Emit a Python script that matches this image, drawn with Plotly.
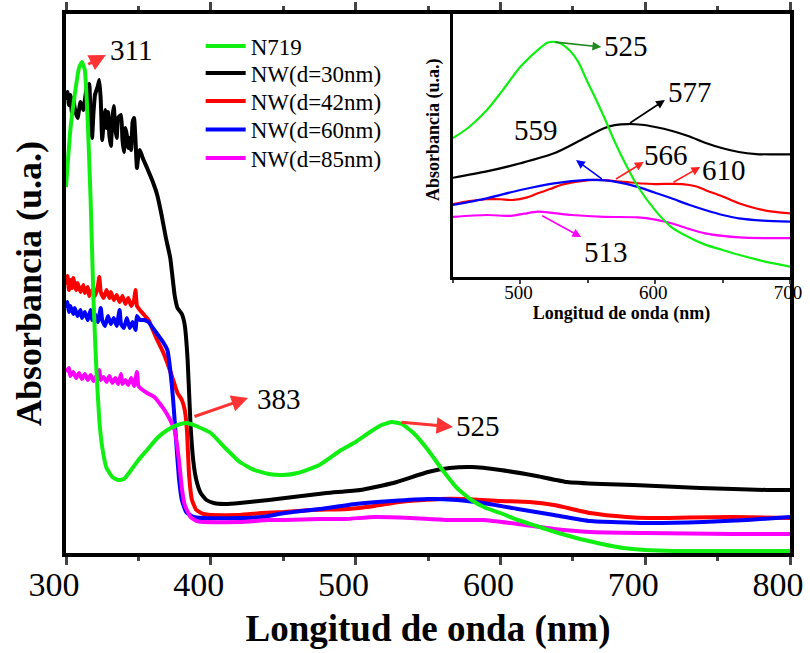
import plotly.graph_objects as go

# ---------------- data (main plot, arbitrary absorbance units) ----------------
n719_nm = [300, 303, 306, 309, 311, 313, 315, 317, 319, 321, 323, 325, 328, 332, 336, 340, 345, 350, 356,
           363, 370, 377, 383, 390, 400, 410, 420, 430, 440, 450, 460, 475, 490, 500, 510, 518, 525, 532,
           540, 550, 560, 570, 580, 590, 600, 612, 625, 640, 655, 670, 685, 700, 720, 760, 800]
n719_abs = [3.66, 4.23, 4.58, 4.85, 4.91, 4.83, 4.33, 3.53, 2.53, 1.83, 1.33, 1.06, 0.85, 0.76, 0.73, 0.74,
            0.83, 0.93, 1.03, 1.15, 1.23, 1.28, 1.30, 1.27, 1.20, 1.05, 0.91, 0.83, 0.79, 0.78, 0.80, 0.88,
            1.03, 1.11, 1.21, 1.28, 1.31, 1.29, 1.20, 1.03, 0.83, 0.65, 0.53, 0.45, 0.40, 0.33, 0.27, 0.20,
            0.14, 0.09, 0.05, 0.03, 0.02, 0.02, 0.02]

nw30_nm = [300, 301, 302, 303, 304, 305, 306, 308, 310, 312, 314, 316, 317, 318, 319, 320, 322, 323, 324, 325,
           326, 327, 328, 329, 330, 331, 332, 333, 334, 335, 336, 338, 339, 340, 341, 342, 343, 344, 345, 346,
           347, 348, 349, 350, 351, 353, 356, 360, 363, 366, 369, 372, 375, 377, 380, 382, 384, 386, 388, 390,
           393, 397, 402, 410, 420, 440, 457, 480, 503, 526, 550, 565, 580, 600, 625, 646, 670, 692, 738, 784, 800]
nw30_abs = [4.53, 4.61, 4.48, 4.58, 4.41, 4.55, 4.45, 4.35, 4.51, 4.43, 4.63, 4.69, 4.28, 4.15, 4.41, 4.58,
            4.67, 4.73, 4.53, 4.13, 4.31, 4.43, 4.25, 4.41, 4.17, 4.07, 4.35, 4.47, 4.25, 4.15, 4.35, 4.38,
            4.13, 4.01, 4.25, 4.18, 4.05, 4.15, 4.03, 4.31, 4.35, 4.13, 3.85, 3.98, 4.03, 3.95, 3.85, 3.71,
            3.58, 3.38, 3.15, 2.95, 2.58, 2.45, 2.39, 2.28, 1.93, 1.28, 0.91, 0.73, 0.60, 0.53, 0.50, 0.49,
            0.50, 0.53, 0.56, 0.60, 0.63, 0.70, 0.81, 0.85, 0.86, 0.83, 0.77, 0.71, 0.69, 0.68, 0.65, 0.63, 0.63]

nw42_nm = [300, 301, 302, 303, 304, 305, 307, 308, 310, 312, 313, 315, 316, 318, 320, 322, 323, 324, 326, 328,
           330, 331, 333, 335, 337, 339, 341, 343, 345, 347, 348, 349, 351, 354, 357, 360, 363, 367, 370, 374,
           377, 380, 382, 383.5, 385, 387, 390, 395, 400, 420, 435, 450, 470, 495, 513, 530, 558, 575, 600, 620,
           637, 662, 687, 703, 730, 761, 800]
nw42_abs = [2.68, 2.77, 2.63, 2.73, 2.65, 2.75, 2.63, 2.70, 2.61, 2.68, 2.60, 2.66, 2.57, 2.63, 2.57, 2.67,
            2.76, 2.61, 2.55, 2.63, 2.55, 2.61, 2.53, 2.58, 2.51, 2.57, 2.49, 2.55, 2.47, 2.53, 2.63, 2.47,
            2.43, 2.38, 2.33, 2.23, 2.13, 2.01, 1.90, 1.73, 1.60, 1.53, 1.43, 1.23, 0.78, 0.53, 0.43, 0.39,
            0.38, 0.38, 0.40, 0.41, 0.43, 0.44, 0.47, 0.51, 0.54, 0.54, 0.52, 0.51, 0.48, 0.40, 0.36, 0.35,
            0.355, 0.36, 0.35]

nw60_nm = [300, 301, 302, 303, 305, 306, 308, 310, 311, 313, 315, 317, 318, 320, 322, 324, 325, 327, 329, 331,
           333, 335, 337, 338, 340, 342, 344, 346, 348, 349, 351, 354, 357, 360, 363, 367, 370, 372, 374, 376,
           378, 380, 383, 388, 395, 420, 435, 451, 475, 500, 525, 550, 570, 588, 612, 637, 662, 700, 740, 770, 800]
nw60_abs = [2.45, 2.51, 2.41, 2.47, 2.39, 2.45, 2.37, 2.43, 2.35, 2.41, 2.33, 2.43, 2.33, 2.39, 2.31, 2.45,
            2.33, 2.27, 2.37, 2.29, 2.35, 2.27, 2.43, 2.29, 2.25, 2.35, 2.25, 2.31, 2.23, 2.37, 2.33, 2.33,
            2.31, 2.25, 2.19, 2.11, 2.03, 1.83, 1.53, 1.13, 0.75, 0.53, 0.41, 0.36, 0.35, 0.35, 0.36, 0.40,
            0.44, 0.49, 0.52, 0.54, 0.53, 0.50, 0.44, 0.38, 0.32, 0.30, 0.31, 0.33, 0.36]

nw85_nm = [300, 302, 303, 305, 307, 309, 311, 313, 315, 317, 319, 321, 323, 324, 326, 328, 330, 332, 334, 336,
           338, 339, 341, 343, 345, 347, 349, 350, 352, 356, 361, 365, 368, 372, 375, 378, 380, 382, 386, 390,
           395, 420, 440, 451, 475, 493, 513, 538, 562, 588, 612, 637, 662, 700, 760, 800]
nw85_abs = [1.81, 1.85, 1.77, 1.81, 1.75, 1.80, 1.74, 1.79, 1.73, 1.78, 1.72, 1.77, 1.83, 1.73, 1.76, 1.71,
            1.77, 1.70, 1.75, 1.69, 1.79, 1.69, 1.73, 1.68, 1.75, 1.67, 1.81, 1.67, 1.64, 1.60, 1.56, 1.49,
            1.43, 1.33, 1.23, 0.93, 0.65, 0.48, 0.36, 0.32, 0.31, 0.31, 0.33, 0.33, 0.34, 0.34, 0.36, 0.35,
            0.33, 0.33, 0.29, 0.24, 0.21, 0.20, 0.19, 0.19]

# ---------------- data (inset, 450-700 nm) ----------------
in_n719_nm = [450, 462, 475, 487, 500, 512, 520, 525, 530, 537, 543, 550, 556, 562, 570, 578, 587, 600, 612,
              625, 637, 650, 662, 675, 687, 700]
in_n719_abs = [0.78, 0.84, 0.93, 1.04, 1.165, 1.25, 1.295, 1.30, 1.29, 1.25, 1.19, 1.08, 0.99, 0.895, 0.76,
               0.64, 0.52, 0.39, 0.30, 0.245, 0.205, 0.176, 0.15, 0.125, 0.105, 0.086]
in_nw30_nm = [450, 475, 500, 525, 545, 562, 570, 580, 590, 600, 612, 625, 637, 650, 662, 675, 687, 700]
in_nw30_abs = [0.566, 0.60, 0.644, 0.698, 0.77, 0.833, 0.85, 0.856, 0.852, 0.84, 0.82, 0.79, 0.755, 0.725,
               0.705, 0.694, 0.692, 0.692]
in_nw42_nm = [450, 462, 475, 485, 495, 505, 513, 522, 530, 545, 557, 575, 590, 600, 620, 630, 637, 650, 662,
              675, 687, 700]
in_nw42_abs = [0.424, 0.44, 0.45, 0.45, 0.446, 0.46, 0.482, 0.505, 0.527, 0.548, 0.554, 0.545, 0.535, 0.532,
               0.532, 0.52, 0.50, 0.465, 0.428, 0.40, 0.383, 0.374]
in_nw60_nm = [450, 475, 500, 525, 550, 560, 570, 587, 600, 612, 625, 637, 650, 662, 680, 700]
in_nw60_abs = [0.419, 0.455, 0.50, 0.536, 0.554, 0.553, 0.545, 0.517, 0.485, 0.455, 0.42, 0.392, 0.365,
               0.347, 0.335, 0.329]
in_nw85_nm = [450, 475, 493, 503, 513, 525, 538, 562, 587, 600, 612, 625, 637, 650, 662, 680, 700]
in_nw85_abs = [0.355, 0.365, 0.36, 0.372, 0.383, 0.375, 0.365, 0.355, 0.352, 0.34, 0.32, 0.29, 0.266, 0.252,
               0.244, 0.24, 0.24]

series_names = ["N719", "NW(d=30nm)", "NW(d=42nm)", "NW(d=60nm)", "NW(d=85nm)"]
series_colors = ["#11ee11", "#000000", "#ff0000", "#0000ff", "#ff00ff"]

main_x_ticks = [300, 400, 500, 600, 700, 800]
inset_x_ticks = [500, 600, 700]

FONT = "Liberation Serif, Times New Roman, serif"

main_data = [(n719_nm, n719_abs), (nw30_nm, nw30_abs), (nw42_nm, nw42_abs), (nw60_nm, nw60_abs), (nw85_nm, nw85_abs)]
inset_data = [(in_n719_nm, in_n719_abs), (in_nw30_nm, in_nw30_abs), (in_nw42_nm, in_nw42_abs),
              (in_nw60_nm, in_nw60_abs), (in_nw85_nm, in_nw85_abs)]

legend_ids = ["legend", "legend2", "legend3", "legend4", "legend5"]

fig = go.Figure()
order = [1, 2, 3, 4, 0]
for i in order:
    x, y = main_data[i]
    fig.add_trace(go.Scatter(x=x, y=y, mode="lines", name=series_names[i], legend=legend_ids[i],
                             line=dict(color=series_colors[i], width=4, shape="spline", smoothing=0.4),
                             xaxis="x", yaxis="y"))
for i in order:
    x, y = inset_data[i]
    fig.add_trace(go.Scatter(x=x, y=y, mode="lines", name=series_names[i], showlegend=False,
                             line=dict(color=series_colors[i], width=2.2, shape="spline", smoothing=0.8),
                             xaxis="x2", yaxis="y2"))

ann = []
def arrow(x0, y0, x1, y1, color, width, ref="", size=1.0):
    ann.append(dict(x=x1, y=y1, ax=x0, ay=y0, xref="x" + ref, yref="y" + ref, axref="x" + ref, ayref="y" + ref,
                    text="", showarrow=True, arrowhead=2, arrowsize=size, arrowwidth=width, arrowcolor=color,
                    standoff=0, startstandoff=0))
def label(x, y, txt, size, ref=""):
    ann.append(dict(x=x, y=y, xref="x" + ref, yref="y" + ref, text=txt, showarrow=False,
                    font=dict(family=FONT, size=size, color="black")))

# main annotations
arrow(314.3, 4.88, 327.5, 4.98, "#ff3333", 3, size=1.1)
label(344.6, 5.03, "311", 29)
arrow(387.7, 1.36, 425.7, 1.55, "#ff3333", 3, size=1.1)
label(446.8, 1.54, "383", 29)
arrow(530.7, 1.31, 567.3, 1.26, "#ff3333", 3, size=1.1)
label(584.5, 1.27, "525", 29)
# inset annotations
arrow(524.9, 1.299, 560.0, 1.272, "#1f8a1f", 1.6, "2", 1.1)
label(578.7, 1.277, "525", 29, "2")
arrow(580.2, 0.856, 607.2, 0.986, "#000000", 1.6, "2", 1.1)
label(625.9, 1.029, "577", 29, "2")
label(511.4, 0.824, "559", 29, "2")
arrow(561.5, 0.554, 541.3, 0.662, "#0000ff", 1.6, "2", 1.1)
arrow(569.8, 0.554, 591.5, 0.651, "#ff2020", 1.6, "2", 1.1)
label(607.9, 0.689, "566", 29, "2")
arrow(612.4, 0.537, 633.4, 0.624, "#ff2020", 1.6, "2", 1.1)
label(651.3, 0.608, "610", 29, "2")
arrow(515.1, 0.365, 545.1, 0.246, "#ff00ff", 1.6, "2", 1.1)
label(563.8, 0.165, "513", 29, "2")

legend_rows_px = [46, 73, 101, 129.5, 158]
legends = {}
for lid, row in zip(legend_ids, legend_rows_px):
    legends[lid] = dict(x=0.186, y=(553 - row) / 539, xanchor="left", yanchor="middle",
                        bgcolor="rgba(0,0,0,0)", font=dict(family=FONT, size=23), itemwidth=40)

fig.update_layout(
    width=810, height=653,
    margin=dict(l=66, r=20, t=14, b=100, autoexpand=False),
    paper_bgcolor="white", plot_bgcolor="white",
    font=dict(family=FONT, color="black"),
    showlegend=True,
    xaxis=dict(domain=[0, 1], range=[300, 800], tickvals=main_x_ticks, ticks="outside", ticklen=8, tickwidth=3,
               showline=True, linewidth=4, linecolor="black", mirror="ticks", showgrid=False, zeroline=False,
               automargin=False, tickfont=dict(family=FONT, size=34), ticklabeloverflow="allow",
               ticklabelstandoff=-10, ticklabelshift=-12,
               minor=dict(dtick=50, ticks="outside", ticklen=4, tickwidth=3, showgrid=False),
               title=dict(text="<b>Longitud de onda (nm)</b>", font=dict(family=FONT, size=37), standoff=14)),
    yaxis=dict(domain=[0, 1], range=[0, 5.39], showticklabels=False, ticks="", showline=True, linewidth=4,
               linecolor="black", mirror=True, showgrid=False, zeroline=False, automargin=False,
               title=dict(text="<b>Absorbancia (u.a.)</b>", font=dict(family=FONT, size=36), standoff=10)),
    xaxis2=dict(domain=[0.5345, 1], range=[450, 700], anchor="y2", tickvals=inset_x_ticks, ticks="outside",
                ticklen=4, tickwidth=2, showline=True, linewidth=3, linecolor="black", mirror=True,
                showgrid=False, zeroline=False, automargin=False, tickfont=dict(family=FONT, size=19),
                ticklabeloverflow="allow", ticklabelstandoff=-8, ticklabelshift=-2,
                minor=dict(dtick=50, ticks="outside", ticklen=3, tickwidth=2, showgrid=False),
                title=dict(text="<b>Longitud de onda (nm)</b>", font=dict(family=FONT, size=18), standoff=0)),
    yaxis2=dict(domain=[0.512, 1], range=[0.03, 1.45], anchor="x2", showticklabels=False, ticks="",
                showline=True, linewidth=3, linecolor="black", mirror=True, showgrid=False, zeroline=False,
                automargin=False,
                title=dict(text="&nbsp;&nbsp;&nbsp;&nbsp;&nbsp;&nbsp;&nbsp;<b>Absorbancia (u.a.)</b>",
                           font=dict(family=FONT, size=18), standoff=6)),
    annotations=ann,
    **legends,
)

fig.write_html("out.html")
